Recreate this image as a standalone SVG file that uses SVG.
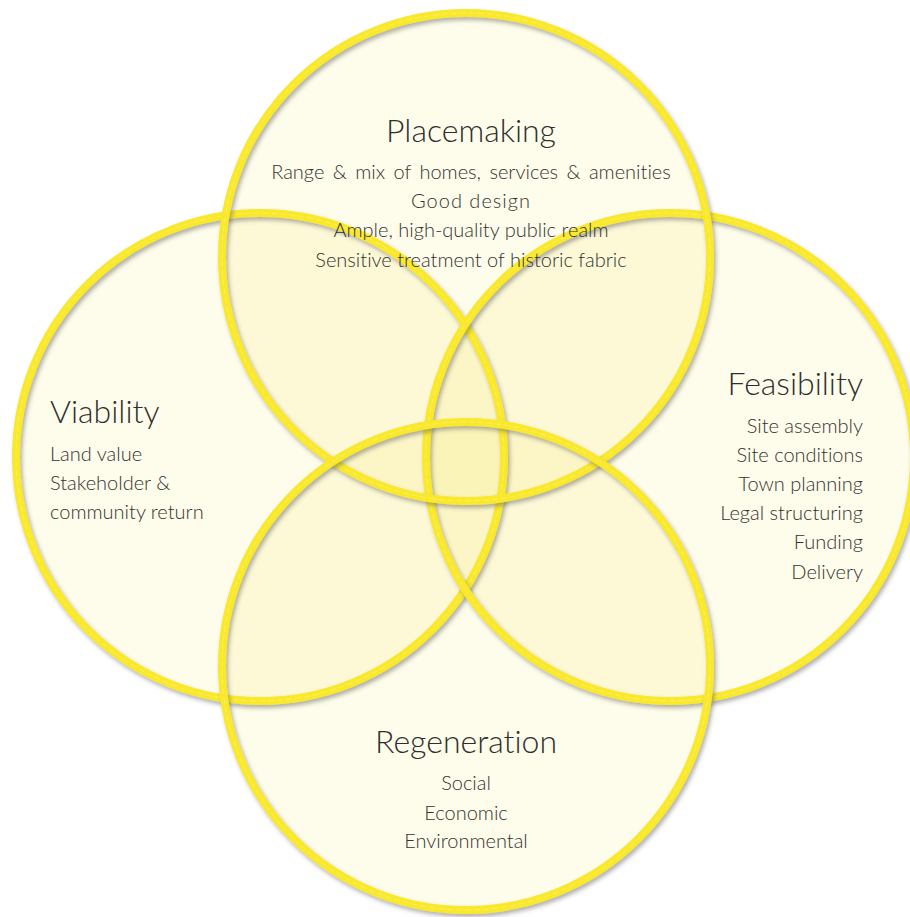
<svg xmlns="http://www.w3.org/2000/svg" width="910" height="917" viewBox="0 0 910 917">
  <defs>
    <filter id="shadow" x="-10%" y="-10%" width="120%" height="120%">
      <feDropShadow dx="2" dy="3" stdDeviation="2" flood-color="#555555" flood-opacity="0.45"/>
    </filter>
  </defs>
  <style>
    .disc { fill: #f8e860; fill-opacity: 0.13; stroke: none; }
    .ring { fill: none; stroke: #f9e92a; stroke-width: 8; filter: url(#shadow); }
    .hl { fill: none; stroke: #ffffff; stroke-width: 0.8; stroke-opacity: 0.35; stroke-dasharray: 6 3; }
    .title { font-family: "Lato", "Liberation Sans", sans-serif; font-weight: 300; font-size: 32px; fill: #2e2e2e; font-variant-ligatures: none; }
    .item { font-family: "Lato", "Liberation Sans", sans-serif; font-weight: 300; font-size: 20px; fill: #333333; font-variant-ligatures: none; }
    .c { text-anchor: middle; }
    .r { text-anchor: end; }
  </style>
  <rect width="910" height="917" fill="#ffffff"/>

  <g id="circles-fill">
    <circle class="disc" cx="260" cy="457" r="244"/>
    <circle class="disc" cx="670" cy="457" r="244"/>
    <circle class="disc" cx="466" cy="257" r="244"/>
    <circle class="disc" cx="466" cy="666" r="244"/>
  </g>

  <g id="viability">
    <circle class="ring" cx="260" cy="457" r="244"/>
    <circle class="hl" cx="260" cy="457" r="244"/>
  </g>
  <g id="feasibility">
    <circle class="ring" cx="670" cy="457" r="244"/>
    <circle class="hl" cx="670" cy="457" r="244"/>
  </g>
  <g id="placemaking">
    <circle class="ring" cx="466" cy="257" r="244"/>
    <circle class="hl" cx="466" cy="257" r="244"/>
  </g>
  <g id="regeneration">
    <circle class="ring" cx="466" cy="666" r="244"/>
    <circle class="hl" cx="466" cy="666" r="244"/>
  </g>

  <g id="placemaking-text">
    <text class="title c" x="471" y="142">Placemaking</text>
    <text class="item c" x="471" y="179" word-spacing="3">Range &amp; mix of homes, services &amp; amenities</text>
    <text class="item c" x="471" y="208" letter-spacing="1">Good design</text>
    <text class="item c" x="471" y="237">Ample, high-quality public realm</text>
    <text class="item c" x="471" y="267">Sensitive treatment of historic fabric</text>
  </g>
  <g id="viability-text">
    <text class="title" x="50" y="423">Viability</text>
    <text class="item" x="50" y="461">Land value</text>
    <text class="item" x="50" y="490">Stakeholder &amp;</text>
    <text class="item" x="50" y="519">community return</text>
  </g>
  <g id="feasibility-text">
    <text class="title r" x="863" y="395">Feasibility</text>
    <text class="item r" x="863" y="433">Site assembly</text>
    <text class="item r" x="863" y="462">Site conditions</text>
    <text class="item r" x="863" y="491">Town planning</text>
    <text class="item r" x="863" y="520">Legal structuring</text>
    <text class="item r" x="863" y="549">Funding</text>
    <text class="item r" x="863" y="579">Delivery</text>
  </g>
  <g id="regeneration-text">
    <text class="title c" x="466" y="753">Regeneration</text>
    <text class="item c" x="466" y="790">Social</text>
    <text class="item c" x="466" y="820">Economic</text>
    <text class="item c" x="466" y="848">Environmental</text>
  </g>
</svg>
